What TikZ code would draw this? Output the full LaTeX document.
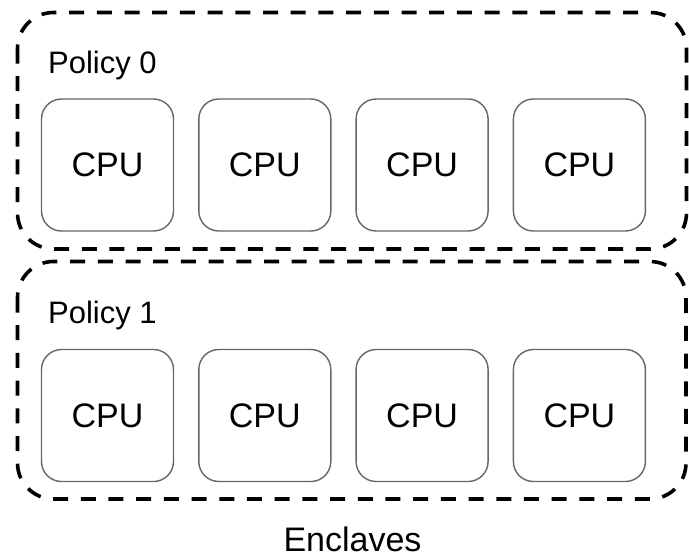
\documentclass[tikz,border=0pt]{standalone}
\usepackage{fontspec}
\setmainfont{Liberation Sans}
\usepackage{tikz}

\definecolor{cpuborder}{HTML}{666666}

\tikzset{
    enclave/.style={line width=3.6pt,dash pattern=on 15pt off 12.7pt,rounded corners=36pt},
    cpu/.style={draw=cpuborder,line width=1.4pt,rounded corners=20pt,
        minimum width=132pt,minimum height=132pt,inner sep=0pt,
        font=\fontsize{34}{34}\selectfont},
    policy/.style={anchor=base west,inner sep=0pt,font=\fontsize{31}{31}\selectfont}
}

\begin{document}
\begin{tikzpicture}[x=1pt,y=-1pt]
    \useasboundingbox(0,0)rectangle(689,558);

    % enclaves
    \draw[enclave](17.5,12.5)rectangle(686.5,249);
    \draw[enclave](17.5,261.5)rectangle(686,499);

    \node[policy](pol0)at(48,73){Policy 0};
    \node[policy](pol1)at(48,323){Policy 1};

    % cpus
    \foreach \i in {0,...,3}{
        \node[cpu](cpua\i)at({107.5+157.3*\i},165){CPU};
        \node[cpu](cpub\i)at({107.5+157.3*\i},415.5){CPU};
    }

    \node[anchor=base,inner sep=0pt,font=\fontsize{34}{34}\selectfont](encl)at(352.5,551.5){Enclaves};
\end{tikzpicture}
\end{document}
